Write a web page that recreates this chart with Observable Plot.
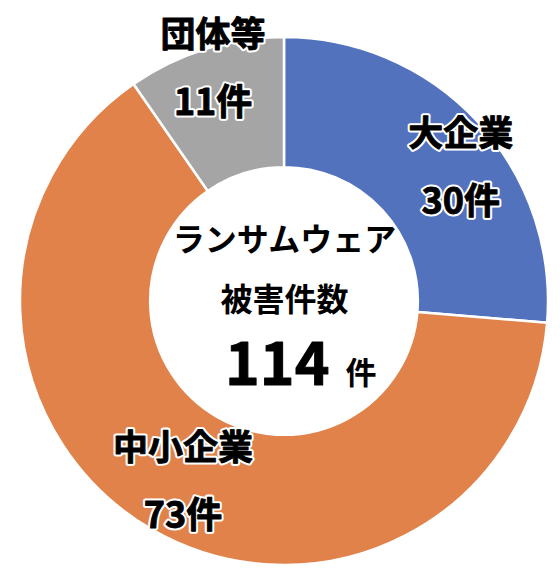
<!DOCTYPE html>
<html><head><meta charset="utf-8">
<script src="https://cdn.jsdelivr.net/npm/d3@7"></script>
<script src="https://cdn.jsdelivr.net/npm/@observablehq/plot@0.6"></script>
<style>
html,body{margin:0;padding:0;background:#fff;}
#chart{width:560px;height:582px;}
</style>
</head><body><div id="chart"></div>
<script>
// ---- data ----
const categories = ["大企業", "中小企業", "団体等"];
const counts = [30, 73, 11];
const colors = ["#5272BE", "#E0824A", "#A5A5A5"];
const unit = "件";
const centerTitle = ["ランサムウェア", "被害件数"];

// ---- layout (not data) ----
const FONT = "'Noto Sans CJK JP', 'Noto Sans', sans-serif";
const innerRatio = 0.507;
const labelShift = {"大企業": [30, 2], "中小企業": [-2, 9], "団体等": [-12, -42]};
const lineGap = 33.5;

const data = categories.map((c, i) => ({category: c, count: counts[i], color: colors[i]}));
const total = d3.sum(counts);
const pie = d3.pie().sort(null).value(d => d.count)(data);
const unitArc = d3.arc().innerRadius(innerRatio).outerRadius(1);
pie.forEach(p => { const [cx, cy] = unitArc.centroid(p); p.cx = cx; p.cy = -cy; });

const donut = (index, scales) => {
  const cx = scales.x(0), cy = scales.y(0);
  const R = Math.abs(scales.x(1) - scales.x(0));
  const arc = d3.arc().innerRadius(R * innerRatio).outerRadius(R);
  const g = d3.create("svg:g").attr("transform", `translate(${cx},${cy})`);
  g.selectAll("path").data(pie).join("path")
    .attr("d", arc)
    .attr("fill", d => d.data.color)
    .attr("stroke", "white")
    .attr("stroke-width", 2.5)
    .attr("stroke-linejoin", "round");
  return g.node();
};

// halo layer + heavy glyph layer
const labelMarks = pie.flatMap(p => {
  const [dx, dy] = labelShift[p.data.category];
  const base = {x: d => d.cx, y: d => d.cy, fontWeight: "bold", fontFamily: FONT,
    textAnchor: "middle", lineAnchor: "middle", dx};
  const halo = {...base, fill: "white", stroke: "white", strokeWidth: 5, strokeLinejoin: "round"};
  const ink = {...base, fill: "black", stroke: "black", strokeWidth: 0.9};
  const nameText = d => d.data.category;
  const countText = d => d.data.count + unit;
  return [
    Plot.text([p], {...halo, text: nameText, fontSize: 35, dy: dy - lineGap}),
    Plot.text([p], {...halo, text: countText, fontSize: 36, dy: dy + lineGap}),
    Plot.text([p], {...ink, text: nameText, fontSize: 35, dy: dy - lineGap}),
    Plot.text([p], {...ink, text: countText, fontSize: 36, dy: dy + lineGap})
  ];
});

const origin = [{x: 0, y: 0}];
const centerCommon = {x: "x", y: "y", fontFamily: FONT, fill: "black", fontWeight: "bold"};

const chart = Plot.plot({
  width: 560,
  height: 582,
  margin: 0,
  x: {domain: [-1, 1], range: [20, 548], axis: null},
  y: {domain: [-1, 1], range: [565, 37], axis: null},
  style: {background: "white", fontFamily: FONT},
  marks: [
    donut,
    ...labelMarks,
    Plot.text(origin, {...centerCommon, text: () => centerTitle[0], fontSize: 32, lineAnchor: "middle", dy: -61}),
    Plot.text(origin, {...centerCommon, text: () => centerTitle[1], fontSize: 32, lineAnchor: "middle", dy: -1}),
    Plot.text(origin, {...centerCommon, text: () => String(total), fontSize: 59, stroke: "black", strokeWidth: 1, textAnchor: "end", lineAnchor: "bottom", dx: 45, dy: 83}),
    Plot.text(origin, {...centerCommon, text: () => unit, fontSize: 31, textAnchor: "start", lineAnchor: "bottom", dx: 61, dy: 82})
  ]
});
document.getElementById("chart").append(chart);
</script>
</body></html>
